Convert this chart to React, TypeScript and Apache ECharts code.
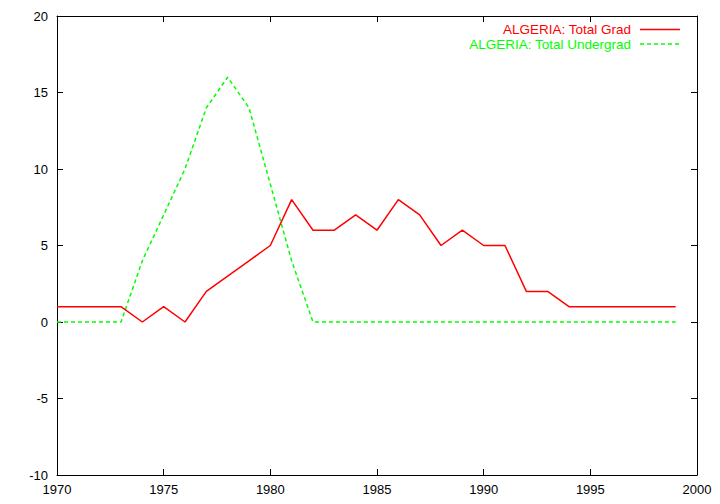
import React, { useEffect, useRef } from "react";
import * as echarts from "echarts";

const years = [1970,1971,1972,1973,1974,1975,1976,1977,1978,1979,1980,1981,1982,1983,1984,1985,1986,1987,1988,1989,1990,1991,1992,1993,1994,1995,1996,1997,1998,1999];
const totalGrad = [1,1,1,1,0,1,0,2,3,4,5,8,6,6,7,6,8,7,5,6,5,5,2,2,1,1,1,1,1,1];
const totalUndergrad = [0,0,0,0,4,7,10,14,16,14,9,4,0,0,0,0,0,0,0,0,0,0,0,0,0,0,0,0,0,0];
const seriesNames = ["ALGERIA: Total Grad", "ALGERIA: Total Undergrad"];

const FONT = "'Liberation Sans', Arial, sans-serif";

export default function App() {
  const ref = useRef<HTMLDivElement>(null);
  useEffect(() => {
    document.body.style.margin = "0";
    const chart = echarts.init(ref.current!, null, { renderer: "svg" });
    const tickCommon = {
      axisLine: { show: true, onZero: false, lineStyle: { color: "#000", width: 1 } },
      axisTick: { show: true, inside: true, length: 6, lineStyle: { color: "#000" } },
      splitLine: { show: false },
    };
    chart.setOption({
      animation: false,
      backgroundColor: "#fff",
      grid: { left: 57, right: 23, top: 16, bottom: 29 },
      xAxis: [
        {
          type: "value", min: 1970, max: 2000, interval: 5, position: "bottom",
          ...tickCommon,
          axisLabel: { color: "#000", fontFamily: FONT, fontSize: 13, margin: 8, formatter: (v: number) => String(v) },
        },
        {
          type: "value", min: 1970, max: 2000, interval: 5, position: "top",
          ...tickCommon,
          axisLabel: { show: false },
        },
      ],
      yAxis: [
        {
          type: "value", min: -10, max: 20, interval: 5, position: "left",
          ...tickCommon,
          axisLabel: { color: "#000", fontFamily: FONT, fontSize: 13, margin: 9 },
        },
        {
          type: "value", min: -10, max: 20, interval: 5, position: "right",
          ...tickCommon,
          axisLabel: { show: false },
        },
      ],
      series: [
        {
          name: seriesNames[0], type: "line", showSymbol: false,
          data: years.map((y, i) => [y, totalGrad[i]]),
          lineStyle: { color: "#ff0000", width: 1.5 },
          itemStyle: { color: "#ff0000" },
          z: 3,
        },
        {
          name: seriesNames[1], type: "line", showSymbol: false,
          data: years.map((y, i) => [y, totalUndergrad[i]]),
          lineStyle: { color: "#00ff00", width: 1.5, type: [4, 3] },
          itemStyle: { color: "#00ff00" },
          z: 2,
        },
      ],
      graphic: [
        {
          type: "text", x: 631, y: 29.5,
          style: { text: seriesNames[0], fill: "#ff0000", font: `13.5px ${FONT}`, textAlign: "right", textVerticalAlign: "middle" },
        },
        {
          type: "line", shape: { x1: 640, y1: 29.5, x2: 680, y2: 29.5 },
          style: { stroke: "#ff0000", lineWidth: 1.5 },
        },
        {
          type: "text", x: 631, y: 44,
          style: { text: seriesNames[1], fill: "#00ff00", font: `13.5px ${FONT}`, textAlign: "right", textVerticalAlign: "middle" },
        },
        {
          type: "line", shape: { x1: 640, y1: 44, x2: 680, y2: 44 },
          style: { stroke: "#00ff00", lineWidth: 1.5, lineDash: [4, 3] },
        },
      ],
    });
    return () => chart.dispose();
  }, []);
  return <div ref={ref} style={{ width: 720, height: 504 }} />;
}
